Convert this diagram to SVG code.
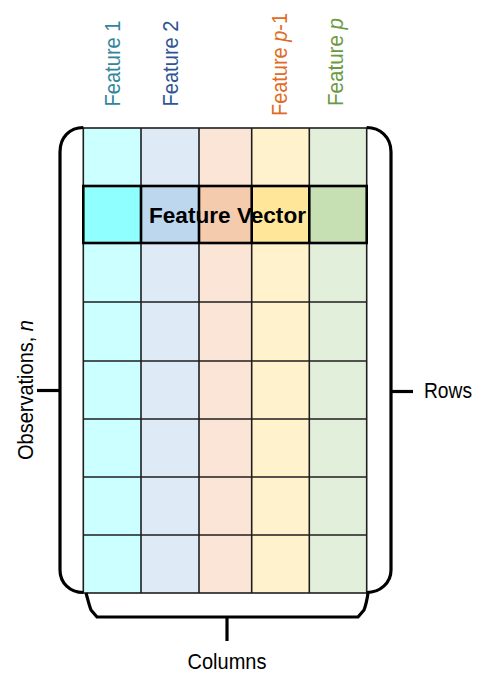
<svg xmlns="http://www.w3.org/2000/svg" width="492" height="684" viewBox="0 0 492 684">
<style>
.lbl{font-family:"Liberation Sans",Arial,sans-serif;font-size:21.5px;fill:#000}
.grid{stroke:#1e1e1e;stroke-width:1.6;fill:none}
.fv{stroke:#000;stroke-width:2.6;fill:none}
.brace{stroke:#000;stroke-width:3.2;fill:none;stroke-linejoin:round}
</style>
<rect width="492" height="684" fill="#fff"/>
<g id="feature-labels" class="lbl">
<text id="lbl-f1" transform="translate(120,106.5) rotate(-90)" fill="#31869B" textLength="86" lengthAdjust="spacingAndGlyphs">Feature 1</text>
<text id="lbl-f2" transform="translate(177.5,106.5) rotate(-90)" fill="#2F5496" textLength="86" lengthAdjust="spacingAndGlyphs">Feature 2</text>
<text id="lbl-fp1" transform="translate(287,116) rotate(-90)" fill="#E06C1F" textLength="103" lengthAdjust="spacingAndGlyphs">Feature <tspan font-style="italic">p</tspan>-1</text>
<text id="lbl-fp" transform="translate(343,106) rotate(-90)" fill="#6A9A3F" textLength="88" lengthAdjust="spacingAndGlyphs">Feature <tspan font-style="italic">p</tspan></text>
</g>
<g id="col-1"><rect x="83.3" y="128" width="57.7" height="465" fill="#CCFFFF"/></g>
<g id="col-2"><rect x="141" y="128" width="58" height="465" fill="#DEEBF7"/></g>
<g id="col-3"><rect x="199" y="128" width="52.7" height="465" fill="#FBE5D6"/></g>
<g id="col-4"><rect x="251.7" y="128" width="57.6" height="465" fill="#FFF2CC"/></g>
<g id="col-5"><rect x="309.3" y="128" width="57.4" height="465" fill="#E2EFDA"/></g>
<g id="grid" class="grid">
<rect x="83.3" y="128" width="283.4" height="465"/>
<line x1="141" y1="128" x2="141" y2="593"/>
<line x1="199" y1="128" x2="199" y2="593"/>
<line x1="251.7" y1="128" x2="251.7" y2="593"/>
<line x1="309.3" y1="128" x2="309.3" y2="593"/>
<line x1="83.3" y1="302" x2="366.7" y2="302"/>
<line x1="83.3" y1="361" x2="366.7" y2="361"/>
<line x1="83.3" y1="419" x2="366.7" y2="419"/>
<line x1="83.3" y1="477" x2="366.7" y2="477"/>
<line x1="83.3" y1="535" x2="366.7" y2="535"/>
</g>
<g id="feature-vector">
<rect x="83.3" y="186" width="57.7" height="57" fill="#8FFFFF"/>
<rect x="141" y="186" width="58" height="57" fill="#BDD7EE"/>
<rect x="199" y="186" width="52.7" height="57" fill="#F5CBAE"/>
<rect x="251.7" y="186" width="57.6" height="57" fill="#FFE699"/>
<rect x="309.3" y="186" width="57.4" height="57" fill="#C6E0B4"/>
<g class="fv">
<rect x="83.3" y="186" width="283.4" height="57"/>
<line x1="141" y1="186" x2="141" y2="243"/>
<line x1="199" y1="186" x2="199" y2="243"/>
<line x1="251.7" y1="186" x2="251.7" y2="243"/>
<line x1="309.3" y1="186" x2="309.3" y2="243"/>
</g>
<text x="227.5" y="222.5" text-anchor="middle" font-family="Liberation Sans,Arial,sans-serif" font-weight="bold" font-size="21.5" textLength="157" lengthAdjust="spacingAndGlyphs">Feature Vector</text>
</g>
<g id="connectors" class="brace">
<path id="brace-left" d="M83.3,127.5 C70,127.5 60,137 60,152 L60,570 C60,583 70,592.5 83.3,592.5"/>
<line x1="37" y1="390.5" x2="60" y2="390.5"/>
<path id="brace-right" d="M366.7,127.5 C380,127.5 391,137 391,152 L391,570 C391,583 380,592.5 366.7,592.5"/>
<line x1="391" y1="391.5" x2="413" y2="391.5"/>
<path id="brace-bottom" d="M86,593 C88,600 89,605 91,610 L97,617 L358,617 L364,610 C366,605 367,600 368,593"/>
<line x1="227" y1="617" x2="227" y2="641"/>
</g>
<g id="side-labels" class="lbl">
<text id="lbl-obs" transform="translate(33,390) rotate(-90)" text-anchor="middle" textLength="140" lengthAdjust="spacingAndGlyphs">Observations, <tspan font-style="italic">n</tspan></text>
<text id="lbl-rows" x="424" y="397.5" textLength="48" lengthAdjust="spacingAndGlyphs">Rows</text>
<text id="lbl-cols" x="227" y="669" text-anchor="middle" textLength="79" lengthAdjust="spacingAndGlyphs">Columns</text>
</g>
</svg>
